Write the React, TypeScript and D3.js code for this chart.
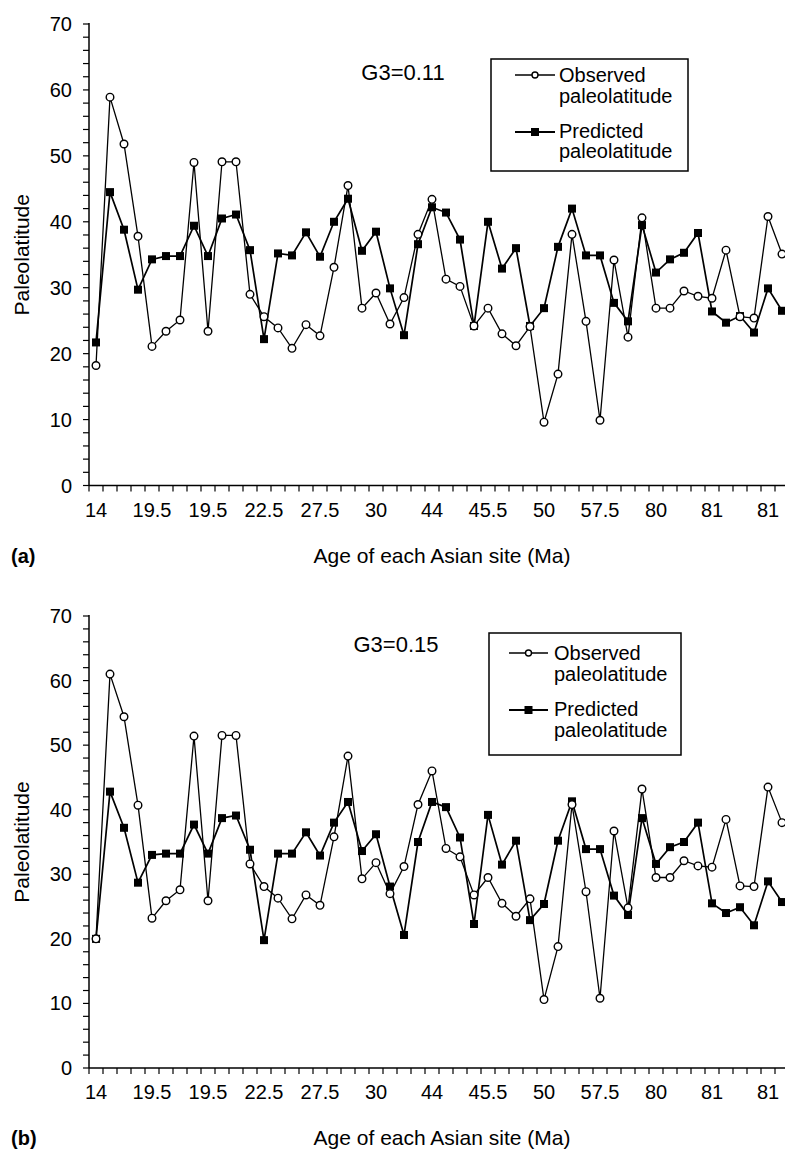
import React, { useEffect, useRef } from "react";
import * as d3 from "d3";

const WIDTH = 785;
const HEIGHT = 1150;
const FONT = "'Liberation Sans', Arial, Helvetica, sans-serif";

// one label under every 4th site
const AGE_LABELS = ["14", "19.5", "19.5", "22.5", "27.5", "30", "44", "45.5", "50", "57.5", "80", "81", "81"];
const LABEL_STEP = 4;
const N_SITES = 50;
const Y_TICKS = [0, 10, 20, 30, 40, 50, 60, 70];

const observedA = [
  18.2, 58.9, 51.8, 37.8, 21.1, 23.4, 25.1, 49.0, 23.4, 49.1,
  49.1, 29.0, 25.6, 23.9, 20.8, 24.4, 22.7, 33.1, 45.5, 26.9,
  29.2, 24.5, 28.5, 38.1, 43.4, 31.3, 30.2, 24.2, 26.9, 23.0,
  21.2, 24.1, 9.6, 16.9, 38.1, 24.9, 9.9, 34.2, 22.5, 40.6,
  26.9, 26.9, 29.5, 28.7, 28.4, 35.7, 25.6, 25.4, 40.8, 35.1,
];
const predictedA = [
  21.7, 44.5, 38.8, 29.7, 34.3, 34.8, 34.8, 39.4, 34.8, 40.5,
  41.1, 35.7, 22.2, 35.2, 34.9, 38.4, 34.7, 40.0, 43.5, 35.6,
  38.5, 29.9, 22.8, 36.6, 42.2, 41.4, 37.3, 24.2, 40.0, 32.9,
  36.0, 24.2, 26.9, 36.2, 42.0, 34.9, 34.9, 27.7, 24.9, 39.5,
  32.3, 34.3, 35.3, 38.3, 26.4, 24.7, 25.7, 23.2, 29.9, 26.5,
];
const observedB = [
  20.0, 61.0, 54.4, 40.7, 23.2, 25.9, 27.6, 51.4, 25.9, 51.5,
  51.5, 31.6, 28.1, 26.3, 23.1, 26.8, 25.2, 35.8, 48.3, 29.3,
  31.8, 27.0, 31.2, 40.8, 46.0, 34.0, 32.7, 26.8, 29.5, 25.5,
  23.5, 26.2, 10.6, 18.8, 40.8, 27.3, 10.8, 36.7, 24.8, 43.2,
  29.5, 29.5, 32.1, 31.3, 31.1, 38.5, 28.2, 28.1, 43.5, 38.0,
];
const predictedB = [
  20.0, 42.8, 37.2, 28.7, 33.0, 33.2, 33.2, 37.7, 33.2, 38.7,
  39.1, 33.8, 19.8, 33.2, 33.2, 36.5, 32.9, 38.0, 41.2, 33.6,
  36.2, 28.1, 20.6, 35.0, 41.2, 40.4, 35.7, 22.3, 39.2, 31.5,
  35.2, 22.9, 25.4, 35.2, 41.3, 33.9, 33.9, 26.7, 23.7, 38.7,
  31.6, 34.2, 35.0, 38.0, 25.5, 24.0, 24.9, 22.1, 28.9, 25.7,
];

type Panel = {
  tag: string;
  g3: string;
  observed: number[];
  predicted: number[];
  y0: number; // pixel of value 0
  y70: number; // pixel of value 70
  g3Pos: [number, number];
  box: { x: number; y: number; w: number; h: number };
  lineX: [number, number];
  textX: number;
  rows: number[]; // text baselines
};

const PANELS: Panel[] = [
  {
    tag: "(a)", g3: "G3=0.11", observed: observedA, predicted: predictedA,
    y0: 485.5, y70: 24, g3Pos: [403, 80],
    box: { x: 491, y: 59, w: 197, h: 112 }, lineX: [515, 555], textX: 559,
    rows: [82, 103, 138, 158],
  },
  {
    tag: "(b)", g3: "G3=0.15", observed: observedB, predicted: predictedB,
    y0: 1068, y70: 616, g3Pos: [396, 652],
    box: { x: 489, y: 633, w: 192, h: 122 }, lineX: [509, 548], textX: 554,
    rows: [660, 681, 716, 737],
  },
];

const LEFT = 89;
const RIGHT = 789;

function drawPanel(svg: d3.Selection<SVGSVGElement, unknown, null, undefined>, p: Panel) {
  const idx = d3.range(N_SITES);
  const x = d3.scaleBand<number>().domain(idx).range([LEFT, RIGHT]);
  const cx = (i: number) => x(i)! + x.bandwidth() / 2;
  const y = d3.scaleLinear().domain([0, 70]).range([p.y0, p.y70]);

  const g = svg.append("g");

  // y axis
  g.append("line").attr("x1", LEFT).attr("x2", LEFT)
    .attr("y1", y(70) - 1).attr("y2", y(0))
    .attr("stroke", "#000").attr("stroke-width", 1.5);
  d3.range(0, 71, 2).forEach((v) => {
    g.append("line").attr("x1", LEFT - 6).attr("x2", LEFT)
      .attr("y1", y(v)).attr("y2", y(v))
      .attr("stroke", "#000").attr("stroke-width", 1.2);
  });
  Y_TICKS.forEach((v) => {
    g.append("text").attr("x", 72).attr("y", y(v) + 7)
      .attr("text-anchor", "end").attr("font-size", 20)
      .attr("font-family", FONT).text(v);
  });

  // x axis
  g.append("line").attr("x1", LEFT).attr("x2", RIGHT)
    .attr("y1", y(0)).attr("y2", y(0))
    .attr("stroke", "#000").attr("stroke-width", 1.5);
  d3.range(N_SITES + 1).forEach((i) => {
    const xx = LEFT + i * x.step();
    g.append("line").attr("x1", xx).attr("x2", xx)
      .attr("y1", y(0)).attr("y2", y(0) + 6)
      .attr("stroke", "#000").attr("stroke-width", 1.2);
  });
  AGE_LABELS.forEach((lab, k) => {
    g.append("text").attr("x", cx(k * LABEL_STEP)).attr("y", y(0) + 31)
      .attr("text-anchor", "middle").attr("font-size", 20)
      .attr("font-family", FONT).text(lab);
  });

  g.append("text").attr("x", 442).attr("y", y(0) + 77)
    .attr("text-anchor", "middle").attr("font-size", 21)
    .attr("font-family", FONT).text("Age of each Asian site (Ma)");
  g.append("text").attr("x", 11).attr("y", y(0) + 77)
    .attr("font-size", 20).attr("font-weight", "bold")
    .attr("font-family", FONT).text(p.tag);

  const midY = (y(0) + y(70)) / 2;
  g.append("text")
    .attr("transform", `translate(29,${midY}) rotate(-90)`)
    .attr("text-anchor", "middle").attr("font-size", 21)
    .attr("font-family", FONT).text("Paleolatitude");

  // series
  const line = d3.line<number>().x((_, i) => cx(i)).y((d) => y(d));

  g.append("path").attr("d", line(p.predicted)!)
    .attr("fill", "none").attr("stroke", "#000").attr("stroke-width", 1.7);
  g.selectAll(".sq").data(p.predicted).enter().append("rect")
    .attr("x", (_, i) => cx(i) - 4).attr("y", (d) => y(d) - 4)
    .attr("width", 8).attr("height", 8).attr("fill", "#000");

  g.append("path").attr("d", line(p.observed)!)
    .attr("fill", "none").attr("stroke", "#000").attr("stroke-width", 1.3);
  g.selectAll(".ci").data(p.observed).enter().append("circle")
    .attr("cx", (_, i) => cx(i)).attr("cy", (d) => y(d)).attr("r", 3.8)
    .attr("fill", "#fff").attr("stroke", "#000").attr("stroke-width", 1.4);

  // G3 label
  g.append("text").attr("x", p.g3Pos[0]).attr("y", p.g3Pos[1])
    .attr("text-anchor", "middle").attr("font-size", 22)
    .attr("font-family", FONT).text(p.g3);

  // legend
  const b = p.box;
  g.append("rect").attr("x", b.x).attr("y", b.y).attr("width", b.w).attr("height", b.h)
    .attr("fill", "#fff").attr("stroke", "#000").attr("stroke-width", 1.5);
  const [l1, l2] = p.lineX;
  const lm = (l1 + l2) / 2;
  const ly1 = p.rows[0] - 7;
  const ly2 = p.rows[2] - 6;
  g.append("line").attr("x1", l1).attr("x2", l2).attr("y1", ly1).attr("y2", ly1)
    .attr("stroke", "#000").attr("stroke-width", 1.5);
  g.append("circle").attr("cx", lm).attr("cy", ly1).attr("r", 3)
    .attr("fill", "#fff").attr("stroke", "#000").attr("stroke-width", 1.4);
  g.append("line").attr("x1", l1).attr("x2", l2).attr("y1", ly2).attr("y2", ly2)
    .attr("stroke", "#000").attr("stroke-width", 2);
  g.append("rect").attr("x", lm - 4).attr("y", ly2 - 4).attr("width", 8).attr("height", 8)
    .attr("fill", "#000");
  ["Observed", "paleolatitude", "Predicted", "paleolatitude"].forEach((t, i) => {
    g.append("text").attr("x", p.textX).attr("y", p.rows[i])
      .attr("font-size", 20).attr("font-family", FONT).text(t);
  });
}

export default function App() {
  const svgRef = useRef<SVGSVGElement | null>(null);

  useEffect(() => {
    const svg = d3.select(svgRef.current!);
    svg.selectAll("*").remove();
    svg.append("rect").attr("width", WIDTH).attr("height", HEIGHT).attr("fill", "#fff");
    PANELS.forEach((p) => drawPanel(svg, p));
  }, []);

  return (
    <svg
      ref={svgRef}
      width={WIDTH}
      height={HEIGHT}
      style={{ position: "absolute", left: 0, top: 0, display: "block" }}
    />
  );
}
